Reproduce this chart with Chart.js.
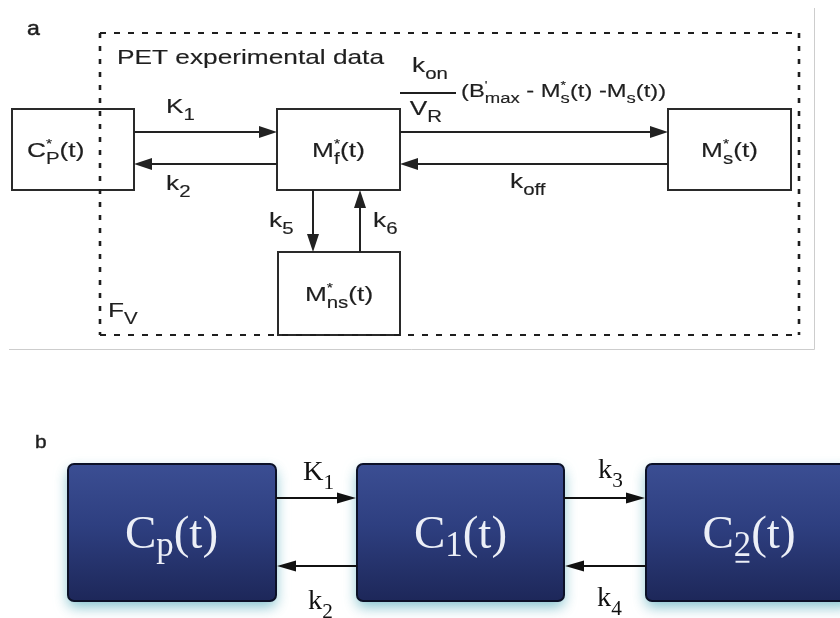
<!DOCTYPE html>
<html>
<head>
<meta charset="utf-8">
<script src="https://cdn.jsdelivr.net/npm/chart.js@4/dist/chart.umd.min.js"></script>
<style>
  html, body { margin: 0; padding: 0; background: #fff; }
  #wrap { width: 840px; height: 618px; }
</style>
</head>
<body>
<div id="wrap"><canvas id="c" width="840" height="618"></canvas></div>
<script>
// ---- Panel a: receptor binding model (markup: _{..} subscript, ^{..} superscript)
const panelALetter = 'a';
const panelATitle = 'PET experimental data';
const compartmentsA = ['C_{P}^{*}(t)', 'M_{f}^{*}(t)', 'M_{s}^{*}(t)', 'M_{ns}^{*}(t)'];
const ratesA = ['K_{1}', 'k_{2}', 'k_{5}', 'k_{6}', 'k_{off}'];
const bindingRate = ['k_{on}', 'V_{R}', "(B^{'}_{max} - M_{s}^{*}(t) -M_{s}(t))"];
const bloodFraction = 'F_{V}';

// ---- Panel b: two-tissue compartment model
const panelBLetter = 'b';
const compartmentsB = ['C_{p}(t)', 'C_{1}(t)', 'C_{2}(t)'];
const ratesB = ['K_{1}', 'k_{2}', 'k_{3}', 'k_{4}'];

// ---- Layout in scale units (x: 0..840, y: 0..618 top-down)
const layoutA = {
  frame: { x0: 9, x1: 814, y0: 8, y1: 349 },
  dashed: { x0: 100, x1: 799, y0: 33, y1: 335 },
  boxes: [
    { x0: 12, x1: 134, y0: 109, y1: 190, textLeft: 27 },
    { x0: 277, x1: 400, y0: 109, y1: 190 },
    { x0: 668, x1: 791, y0: 109, y1: 190 },
    { x0: 278, x1: 400, y0: 252, y1: 335 }
  ],
  arrows: [
    { x1: 134, y1: 132, x2: 277, y2: 132 },
    { x1: 277, y1: 164, x2: 134, y2: 164 },
    { x1: 313, y1: 190, x2: 313, y2: 252 },
    { x1: 360, y1: 252, x2: 360, y2: 190 },
    { x1: 668, y1: 164, x2: 400, y2: 164 },
    { x1: 400, y1: 132, x2: 668, y2: 132 }
  ],
  rateLabels: [ [166, 113], [166, 190], [269, 227], [373, 227], [510, 188] ],
  letter: [27, 35],
  title: [117, 64],
  fv: [108, 317],
  fraction: { cx: 430, top: 72, bar: 93, x0: 400, x1: 456, bottom: 115 },
  expr: [461, 97]
};
const layoutB = {
  boxes: [
    { x0: 68, x1: 276, y0: 464, y1: 601 },
    { x0: 357, x1: 564, y0: 464, y1: 601 },
    { x0: 646, x1: 852, y0: 464, y1: 601 }
  ],
  arrows: [
    { x1: 276, y1: 498, x2: 356, y2: 498 },
    { x1: 357, y1: 566, x2: 277, y2: 566 },
    { x1: 564, y1: 498, x2: 645, y2: 498 },
    { x1: 646, y1: 566, x2: 565, y2: 566 }
  ],
  rateLabels: [ [303, 480], [308, 609], [598, 478], [597, 606] ],
  letter: [35, 448]
};

// ---- Text styles
const ink = '#1f1f1f';
const sansA = { family: '"Liberation Sans", Arial, sans-serif', size: 21, scaleX: 1.25,
  subScale: 0.78, subDy: 0.32, supScale: 0.6, supDy: 0.42, color: ink, cap: 0.716, stroke: 0.15 };
const sansExpr = Object.assign({}, sansA, { size: 19, scaleX: 1.25 });
const serifLabel = { family: '"Liberation Serif", "Times New Roman", serif', size: 27, scaleX: 1.05,
  subScale: 0.75, subDy: 0.32, supScale: 0.6, supDy: 0.4, color: '#111', cap: 0.662 };
const serifBox = { family: '"Liberation Serif", "Times New Roman", serif', size: 47, scaleX: 1,
  subScale: 0.74, subDy: 0.17, supScale: 0.6, supDy: 0.4, color: '#eceff7', cap: 0.662 };

function parseRich(s) {
  const out = []; let i = 0, buf = '';
  while (i < s.length) {
    const c = s[i];
    if ((c === '_' || c === '^') && s[i + 1] === '{') {
      if (buf) { out.push({ t: buf, m: 'n' }); buf = ''; }
      const j = s.indexOf('}', i);
      out.push({ t: s.slice(i + 2, j), m: c === '_' ? 'sub' : 'sup' });
      i = j + 1;
    } else { buf += c; i++; }
  }
  if (buf) out.push({ t: buf, m: 'n' });
  return out;
}

function fontFor(st, m) {
  const sz = m === 'n' ? st.size : m === 'sub' ? st.size * st.subScale : st.size * st.supScale;
  return { sz, font: `${st.weight || 'normal'} ${sz}px ${st.family}` };
}

function layoutRich(ctx, pieces, st) {
  let x = 0; const items = []; let last = null;
  for (const p of pieces) {
    const f = fontFor(st, p.m);
    ctx.font = f.font;
    const w = ctx.measureText(p.t).width;
    const dy = p.m === 'sub' ? st.subDy * st.size : p.m === 'sup' ? -st.supDy * st.size : 0;
    if (p.m !== 'n' && last && last.m !== p.m) {
      // stack a sub/superscript pair at the same x
      items.push({ t: p.t, m: p.m, x: last.x, dy, font: f.font, w });
      x = Math.max(x, last.x + w);
      last = null;
    } else {
      items.push({ t: p.t, m: p.m, x, dy, font: f.font, w });
      last = p.m !== 'n' ? { x, m: p.m } : null;
      x += w;
    }
  }
  return { items, width: x };
}

function drawRich(ctx, str, x, y, st, align, opts) {
  const L = layoutRich(ctx, parseRich(str), st);
  const sx = st.scaleX || 1;
  const left = align === 'center' ? x - L.width * sx / 2 : x;
  ctx.save();
  ctx.translate(left, y);
  ctx.scale(sx, 1);
  ctx.fillStyle = st.color;
  ctx.strokeStyle = st.color;
  ctx.textAlign = 'left';
  ctx.textBaseline = 'alphabetic';
  for (const it of L.items) {
    ctx.font = it.font;
    ctx.fillText(it.t, it.x, it.dy);
    if (st.stroke) { ctx.lineWidth = st.stroke; ctx.strokeText(it.t, it.x, it.dy); }
    if (opts && opts.underlineSub && it.m === 'sub') {
      ctx.fillRect(it.x + it.w * 0.1, it.dy + st.size * 0.1, it.w * 0.8, 2);
    }
  }
  ctx.restore();
  return L.width * sx;
}

function arrow(ctx, x1, y1, x2, y2, len, half, color, lw) {
  const a = Math.atan2(y2 - y1, x2 - x1);
  const bx = x2 - len * Math.cos(a), by = y2 - len * Math.sin(a);
  ctx.strokeStyle = color; ctx.fillStyle = color; ctx.lineWidth = lw;
  ctx.setLineDash([]);
  ctx.beginPath(); ctx.moveTo(x1, y1); ctx.lineTo(bx + Math.cos(a), by + Math.sin(a)); ctx.stroke();
  ctx.beginPath();
  ctx.moveTo(x2, y2);
  ctx.lineTo(bx - half * Math.sin(a), by + half * Math.cos(a));
  ctx.lineTo(bx + half * Math.sin(a), by - half * Math.cos(a));
  ctx.closePath(); ctx.fill();
}

const diagramPlugin = {
  id: 'compartmentDiagram',
  afterDraw(chart) {
    const ctx = chart.ctx;
    const X = v => chart.scales.x.getPixelForValue(v);
    const Y = v => chart.scales.y.getPixelForValue(v);
    ctx.save();

    // ---------- panel a ----------
    const fr = layoutA.frame;
    ctx.strokeStyle = '#cdcdcd'; ctx.lineWidth = 1;
    ctx.beginPath();
    ctx.moveTo(X(fr.x1) + 0.5, Y(fr.y0)); ctx.lineTo(X(fr.x1) + 0.5, Y(fr.y1) + 0.5);
    ctx.lineTo(X(fr.x0), Y(fr.y1) + 0.5);
    ctx.stroke();

    layoutA.boxes.forEach((b, i) => {
      ctx.fillStyle = '#fff';
      ctx.fillRect(X(b.x0), Y(b.y0), X(b.x1) - X(b.x0), Y(b.y1) - Y(b.y0));
      ctx.strokeStyle = '#2a2a2a'; ctx.lineWidth = 2;
      ctx.strokeRect(X(b.x0), Y(b.y0), X(b.x1) - X(b.x0), Y(b.y1) - Y(b.y0));
      const cx = (X(b.x0) + X(b.x1)) / 2, cy = (Y(b.y0) + Y(b.y1)) / 2;
      const base = cy + sansA.size * sansA.cap / 2;
      if (b.textLeft !== undefined) drawRich(ctx, compartmentsA[i], X(b.textLeft), base, sansA, 'left');
      else drawRich(ctx, compartmentsA[i], cx, base, sansA, 'center');
    });

    layoutA.arrows.forEach(a => arrow(ctx, X(a.x1), Y(a.y1), X(a.x2), Y(a.y2), 18, 6, '#222', 2));

    // dashed boundary of the measured region
    const d = layoutA.dashed;
    ctx.strokeStyle = '#1e1e1e';
    ctx.lineWidth = 2;
    ctx.setLineDash([6, 8]);
    ctx.beginPath();
    ctx.moveTo(X(d.x0), Y(d.y0)); ctx.lineTo(X(d.x1), Y(d.y0));
    ctx.moveTo(X(d.x0), Y(d.y1)); ctx.lineTo(X(d.x1), Y(d.y1));
    ctx.stroke();
    ctx.lineWidth = 2.6;
    ctx.setLineDash([5, 8]);
    ctx.beginPath();
    ctx.moveTo(X(d.x0), Y(d.y0)); ctx.lineTo(X(d.x0), Y(d.y1));
    ctx.moveTo(X(d.x1), Y(d.y0)); ctx.lineTo(X(d.x1), Y(d.y1));
    ctx.stroke();
    ctx.setLineDash([]);

    drawRich(ctx, panelALetter, X(layoutA.letter[0]), Y(layoutA.letter[1]), Object.assign({}, sansA, { size: 21, scaleX: 1.1, stroke: 0.5 }), 'left');
    drawRich(ctx, panelATitle, X(layoutA.title[0]), Y(layoutA.title[1]), sansA, 'left');
    ratesA.forEach((r, i) => drawRich(ctx, r, X(layoutA.rateLabels[i][0]), Y(layoutA.rateLabels[i][1]), sansA, 'left'));
    drawRich(ctx, bloodFraction, X(layoutA.fv[0]), Y(layoutA.fv[1]), sansA, 'left');

    const fq = layoutA.fraction;
    drawRich(ctx, bindingRate[0], X(fq.cx), Y(fq.top), sansA, 'center');
    ctx.fillStyle = ink;
    ctx.fillRect(X(fq.x0), Y(fq.bar) - 1, X(fq.x1) - X(fq.x0), 2);
    drawRich(ctx, bindingRate[1], X(fq.cx) - 4, Y(fq.bottom), sansA, 'center');
    drawRich(ctx, bindingRate[2], X(layoutA.expr[0]), Y(layoutA.expr[1]), sansExpr, 'left');

    // ---------- panel b ----------
    drawRich(ctx, panelBLetter, X(layoutB.letter[0]), Y(layoutB.letter[1]), Object.assign({}, sansA, { size: 19, scaleX: 1.1, stroke: 0.4 }), 'left');

    layoutB.boxes.forEach((b, i) => {
      const x = X(b.x0), y = Y(b.y0), w = X(b.x1) - X(b.x0), h = Y(b.y1) - Y(b.y0);
      const g = ctx.createLinearGradient(0, y, 0, y + h);
      g.addColorStop(0, '#3b4e93');
      g.addColorStop(0.45, '#2e3f80');
      g.addColorStop(1, '#1d2759');
      ctx.save();
      ctx.shadowColor = 'rgba(90,175,190,0.75)';
      ctx.shadowBlur = 14;
      ctx.shadowOffsetY = 6;
      ctx.fillStyle = g;
      ctx.beginPath(); ctx.roundRect(x, y, w, h, 6); ctx.fill();
      ctx.restore();
      ctx.strokeStyle = '#0c1128'; ctx.lineWidth = 2;
      ctx.beginPath(); ctx.roundRect(x, y, w, h, 6); ctx.stroke();
      const cx = (X(b.x0) + X(Math.min(b.x1, b.x0 + 207))) / 2, cy = y + h / 2;
      drawRich(ctx, compartmentsB[i], cx, cy + serifBox.size * serifBox.cap / 2, serifBox, 'center', { underlineSub: i === 2 });
    });

    layoutB.arrows.forEach(a => arrow(ctx, X(a.x1), Y(a.y1), X(a.x2), Y(a.y2), 19, 5.5, '#111', 2));
    ratesB.forEach((r, i) => drawRich(ctx, r, X(layoutB.rateLabels[i][0]), Y(layoutB.rateLabels[i][1]), serifLabel, 'left'));

    ctx.restore();
  }
};

new Chart(document.getElementById('c'), {
  type: 'scatter',
  data: { datasets: [] },
  options: {
    responsive: false,
    animation: false,
    events: [],
    layout: { padding: 0 },
    plugins: { legend: { display: false }, tooltip: { enabled: false } },
    scales: {
      x: { type: 'linear', min: 0, max: 840, display: false },
      y: { type: 'linear', min: 0, max: 618, reverse: true, display: false }
    }
  },
  plugins: [diagramPlugin]
});
</script>
</body>
</html>
